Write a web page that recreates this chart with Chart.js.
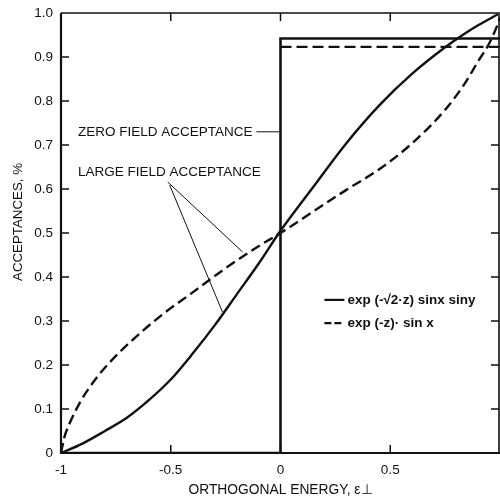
<!DOCTYPE html>
<html><head><meta charset="utf-8">
<script src="https://cdn.jsdelivr.net/npm/chart.js@4"></script>
<style>html,body{margin:0;padding:0;background:#fff}#wrap{width:500px;height:501px}</style>
</head><body><div id="wrap"><canvas id="c" width="500" height="501"></canvas></div>
<script>
// ---- data ----
const xTicks = [-1, -0.5, 0, 0.5, 1];
const xTickLabels = ['-1', '-0.5', '0', '0.5', ''];
const yTicks = [0, 0.1, 0.2, 0.3, 0.4, 0.5, 0.6, 0.7, 0.8, 0.9, 1.0];
const yTickLabels = ['0', '0.1', '0.2', '0.3', '0.4', '0.5', '0.6', '0.7', '0.8', '0.9', '1.0'];

// zero field acceptance (step functions)
const zeroSolidX = [-1, 0, 0, 1];
const zeroSolidY = [0, 0, 0.942, 0.942];
const zeroDashedX = [0, 1];
const zeroDashedY = [0.923, 0.923];

// large field acceptance
const largeSolidX = [-1, -0.9, -0.8, -0.7, -0.6, -0.5, -0.4, -0.3, -0.2, -0.1, 0, 0.15, 0.3, 0.45, 0.6, 0.75, 0.83, 0.9, 0.99];
const largeSolidY = [0, 0.022, 0.05, 0.08, 0.12, 0.167, 0.226, 0.29, 0.36, 0.43, 0.505, 0.605, 0.704, 0.79, 0.862, 0.922, 0.95, 0.972, 0.997];
const largeDashedX = [-1, -0.985, -0.96, -0.91, -0.85, -0.78, -0.7, -0.55, -0.4, -0.25, -0.1, 0, 0.15, 0.3, 0.45, 0.6, 0.75, 0.84, 0.9, 0.95, 0.99, 1.0];
const largeDashedY = [0, 0.035, 0.068, 0.118, 0.163, 0.205, 0.245, 0.31, 0.365, 0.42, 0.47, 0.5, 0.549, 0.598, 0.645, 0.704, 0.78, 0.84, 0.89, 0.93, 0.975, 0.99];

// annotation leader lines
const leaderZeroX = [-0.11, 0];
const leaderZeroY = [0.73, 0.73];
const leaderLargeAX = [-0.514, -0.173];
const leaderLargeAY = [0.616, 0.457];
const leaderLargeBX = [-0.505, -0.264];
const leaderLargeBY = [0.609, 0.320];

const annotationTexts = ['ZERO FIELD ACCEPTANCE', 'LARGE FIELD ACCEPTANCE'];
const legendLabels = ['exp (-\u221A2\u00B7z) sinx siny', 'exp (-z)\u00B7 sin x'];
const xTitle = 'ORTHOGONAL ENERGY, \u03B5\u22A5';
const yTitle = 'ACCEPTANCES, %';

// ---- helpers ----
const pts = (xs, ys) => xs.map((x, i) => ({x, y: ys[i]}));
const FONT = "'Liberation Sans', Arial, sans-serif";
const INK = '#111';

function ds(xs, ys, opts) {
  return Object.assign({
    data: pts(xs, ys), showLine: true, pointRadius: 0, borderColor: INK,
    backgroundColor: INK, borderWidth: 2.4, fill: false, tension: 0
  }, opts);
}

const framePlugin = {
  id: 'frame',
  afterDatasetsDraw(chart, args, o) {
    const {ctx, chartArea: a, scales: {x, y}} = chart;
    ctx.save();
    ctx.strokeStyle = INK;
    ctx.lineCap = 'butt';
    // frame
    ctx.lineWidth = 2.2;
    ctx.beginPath();
    ctx.moveTo(a.left, a.top); ctx.lineTo(a.left, a.bottom); ctx.lineTo(a.right, a.bottom);
    ctx.stroke();
    ctx.lineWidth = 1.6;
    ctx.beginPath();
    ctx.moveTo(a.left, a.top); ctx.lineTo(a.right - 1, a.top); ctx.lineTo(a.right - 1, a.bottom);
    ctx.stroke();
    // inward ticks
    ctx.lineWidth = 1.5;
    const tl = 8;
    yTicks.forEach(v => {
      if (v <= 0 || v >= 1) return;
      const py = y.getPixelForValue(v);
      ctx.beginPath();
      ctx.moveTo(a.left, py); ctx.lineTo(a.left + tl, py);
      ctx.moveTo(a.right - 1, py); ctx.lineTo(a.right - 1 - tl, py);
      ctx.stroke();
    });
    xTicks.forEach(v => {
      if (v <= -1 || v >= 1) return;
      const px = x.getPixelForValue(v);
      ctx.beginPath();
      ctx.moveTo(px, a.bottom); ctx.lineTo(px, a.bottom - tl);
      ctx.moveTo(px, a.top); ctx.lineTo(px, a.top + tl);
      ctx.stroke();
    });
    ctx.fillStyle = INK;
    // y title (rotated)
    ctx.save();
    ctx.font = `13.3px ${FONT}`;
    ctx.textAlign = 'center';
    ctx.textBaseline = 'middle';
    ctx.translate(o.yTitlePos.x, o.yTitlePos.y);
    ctx.rotate(-Math.PI / 2);
    ctx.fillText(yTitle, 0, 0);
    ctx.restore();
    // annotations
    ctx.textBaseline = 'middle';
    ctx.textAlign = 'left';
    ctx.font = `13.5px ${FONT}`;
    o.annotations.forEach((an, i) => {
      ctx.fillText(annotationTexts[i], x.getPixelForValue(an.x), y.getPixelForValue(an.y));
    });
    // legend
    ctx.font = `bold 13.5px ${FONT}`;
    o.legend.forEach((it, i) => {
      const py = y.getPixelForValue(it.y);
      const x0 = x.getPixelForValue(it.x);
      ctx.lineWidth = 2.2;
      ctx.setLineDash(it.dash);
      ctx.beginPath();
      ctx.moveTo(x0, py); ctx.lineTo(x0 + 20, py);
      ctx.stroke();
      ctx.setLineDash([]);
      ctx.fillText(legendLabels[i], x0 + 23, py);
    });
    ctx.restore();
  }
};

new Chart(document.getElementById('c'), {
  type: 'scatter',
  data: {
    datasets: [
      ds(zeroSolidX, zeroSolidY, {borderWidth: 2.6}),
      ds(zeroDashedX, zeroDashedY, {borderDash: [11, 5], borderWidth: 2.2}),
      ds(largeSolidX, largeSolidY, {cubicInterpolationMode: 'monotone'}),
      ds(largeDashedX, largeDashedY, {cubicInterpolationMode: 'monotone', borderDash: [10, 5]}),
      ds(leaderZeroX, leaderZeroY, {borderWidth: 1}),
      ds(leaderLargeAX, leaderLargeAY, {borderWidth: 1}),
      ds(leaderLargeBX, leaderLargeBY, {borderWidth: 1})
    ]
  },
  options: {
    responsive: false,
    animation: false,
    layout: {padding: {top: 13, left: 0, right: 0, bottom: 0}},
    plugins: {
      legend: {display: false},
      tooltip: {enabled: false},
      frame: {
        yTitlePos: {x: 18, y: 222},
        annotations: [{x: -0.923, y: 0.73}, {x: -0.923, y: 0.639}],
        legend: [{x: 0.2, y: 0.348, dash: []}, {x: 0.2, y: 0.295, dash: [7, 3]}]
      }
    },
    scales: {
      x: {
        type: 'linear', min: -1, max: 1,
        afterBuildTicks: s => { s.ticks = xTicks.map(v => ({value: v})); },
        afterFit: s => { s.height = 48; s.paddingLeft = 0; s.paddingRight = 0; },
        grid: {display: false, drawTicks: false},
        border: {display: false},
        ticks: {
          autoSkip: false, maxRotation: 0, padding: 9, color: INK,
          font: {family: FONT, size: 13.5},
          callback: (v, i) => xTickLabels[i]
        },
        title: {display: true, text: xTitle, color: INK, font: {family: FONT, size: 13.8}, padding: {top: 0, bottom: 3}}
      },
      y: {
        type: 'linear', min: 0, max: 1,
        afterBuildTicks: s => { s.ticks = yTicks.map(v => ({value: v})); },
        afterFit: s => { s.width = 61; s.paddingTop = 0; s.paddingBottom = 0; },
        grid: {display: false, drawTicks: false},
        border: {display: false},
        ticks: {
          autoSkip: false, padding: 8, color: INK,
          font: {family: FONT, size: 13.5},
          callback: (v, i) => yTickLabels[i]
        },
        title: {display: false}
      }
    }
  },
  plugins: [framePlugin]
});
</script>
</body></html>
